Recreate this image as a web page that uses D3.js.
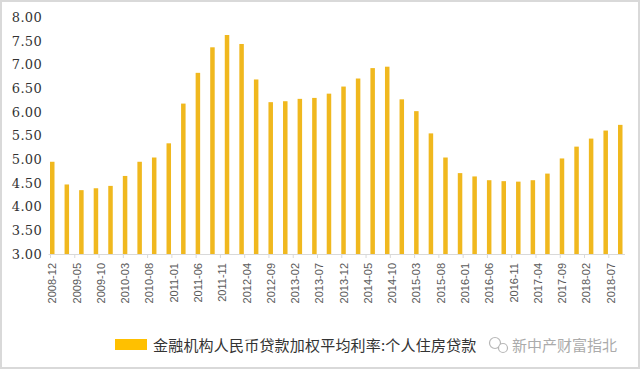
<!DOCTYPE html>
<html>
<head>
<meta charset="utf-8">
<script src="https://cdn.jsdelivr.net/npm/d3@7"></script>
<style>
  html, body { margin: 0; padding: 0; background: #fff; }
  svg { display: block; }
</style>
</head>
<body>
<svg id="chart" width="640" height="369"></svg>
<script>
// quarterly observations
const months = [
  "2008-12", "2009-03", "2009-06", "2009-09", "2009-12", "2010-03", "2010-06", "2010-09",
  "2010-12", "2011-03", "2011-06", "2011-09", "2011-12", "2012-03", "2012-06", "2012-09",
  "2012-12", "2013-03", "2013-06", "2013-09", "2013-12", "2014-03", "2014-06", "2014-09",
  "2014-12", "2015-03", "2015-06", "2015-09", "2015-12", "2016-03", "2016-06", "2016-09",
  "2016-12", "2017-03", "2017-06", "2017-09", "2017-12", "2018-03", "2018-06", "2018-09"
];
const rates = [
  4.95, 4.47, 4.35, 4.39, 4.44, 4.65, 4.95, 5.04,
  5.34, 6.18, 6.83, 7.37, 7.63, 7.44, 6.69, 6.21,
  6.23, 6.28, 6.30, 6.39, 6.54, 6.71, 6.93, 6.96,
  6.27, 6.02, 5.55, 5.04, 4.71, 4.64, 4.56, 4.54,
  4.53, 4.56, 4.70, 5.02, 5.27, 5.44, 5.61, 5.73
];
// axis labels every 5 months
const xTicks = [
  "2008-12", "2009-05", "2009-10", "2010-03", "2010-08", "2011-01", "2011-06", "2011-11",
  "2012-04", "2012-09", "2013-02", "2013-07", "2013-12", "2014-05", "2014-10", "2015-03",
  "2015-08", "2016-01", "2016-06", "2016-11", "2017-04", "2017-09", "2018-02", "2018-07"
];
const yTicks = [3.00, 3.50, 4.00, 4.50, 5.00, 5.50, 6.00, 6.50, 7.00, 7.50, 8.00];
const legendLabel = "金融机构人民币贷款加权平均利率:个人住房贷款";
const watermark = "新中产财富指北";

// month index counted from 2008-12
function monthIndex(s) {
  let p = s.split("-");
  return (+p[0] - 2008) * 12 + (+p[1] - 12);
}

let svg = d3.select("#chart");

// outer frame
svg.append("rect")
  .attr("x", 1).attr("y", 1)
  .attr("width", 638).attr("height", 367)
  .attr("fill", "#fff")
  .attr("stroke", "#d9d9d9")
  .attr("stroke-width", 2);

let x = d3.scaleLinear().domain([0, 117]).range([52, 620]);
let y = d3.scaleLinear().domain([3, 8]).range([254, 17.5]);

// y labels (no axis line)
let yAxis = svg.append("g")
  .attr("transform", "translate(42,0)")
  .call(d3.axisLeft(y).tickValues(yTicks).tickFormat(d3.format(".2f")).tickSize(0));
yAxis.select(".domain").remove();
yAxis.selectAll("text")
  .attr("x", 0)
  .attr("fill", "#333")
  .style("font-family", "'DejaVu Serif', serif")
  .style("font-size", "13px")
  .style("letter-spacing", "0.3px");

// bars
const barColor = "#F0B81E";
svg.append("g").selectAll("rect")
  .data(months)
  .enter().append("rect")
  .attr("x", d => x(monthIndex(d)) - 2)
  .attr("y", (d, i) => y(rates[i]))
  .attr("width", 4.5)
  .attr("height", (d, i) => y(3) - y(rates[i]))
  .attr("fill", barColor);

// x axis
let xAxis = svg.append("g")
  .attr("transform", `translate(0,${y(3)})`)
  .call(d3.axisBottom(x)
    .tickValues(xTicks.map(monthIndex))
    .tickFormat((d, i) => xTicks[i])
    .tickSize(4)
    .tickSizeOuter(0));
xAxis.select(".domain")
  .attr("d", "M48.5,0.5H625")
  .attr("stroke", "#d9d9d9");
xAxis.selectAll(".tick line")
  .attr("stroke", "#d9d9d9")
  .attr("transform", "translate(-2,0)");
xAxis.selectAll(".tick text")
  .attr("fill", "#595959")
  .style("font-family", "'Liberation Sans', Arial, sans-serif")
  .style("font-size", "11px")
  .attr("text-anchor", "end")
  .attr("transform", "rotate(-90)")
  .attr("x", -9)
  .attr("y", 0)
  .attr("dy", "0.35em");

// legend
let legend = svg.append("g");
legend.append("rect")
  .attr("x", 115).attr("y", 339)
  .attr("width", 32).attr("height", 11)
  .attr("fill", "#FFC000");
legend.append("text")
  .attr("x", 153).attr("y", 351)
  .attr("fill", "#333")
  .style("font-family", "'Noto Sans CJK SC', sans-serif")
  .style("font-size", "15px")
  .style("letter-spacing", "0.2px")
  .text(legendLabel);

// watermark
let wm = svg.append("g").attr("opacity", 0.7);
wm.append("circle").attr("cx", 495).attr("cy", 343).attr("r", 5.5)
  .attr("fill", "none").attr("stroke", "#9a9a9a").attr("stroke-width", 1.2);
wm.append("circle").attr("cx", 503).attr("cy", 348).attr("r", 4.5)
  .attr("fill", "#fff").attr("stroke", "#9a9a9a").attr("stroke-width", 1.2);
wm.append("text")
  .attr("x", 512).attr("y", 351)
  .attr("fill", "#888")
  .style("font-family", "'Noto Sans CJK SC', sans-serif")
  .style("font-size", "15px")
  .text(watermark);
</script>
</body>
</html>
